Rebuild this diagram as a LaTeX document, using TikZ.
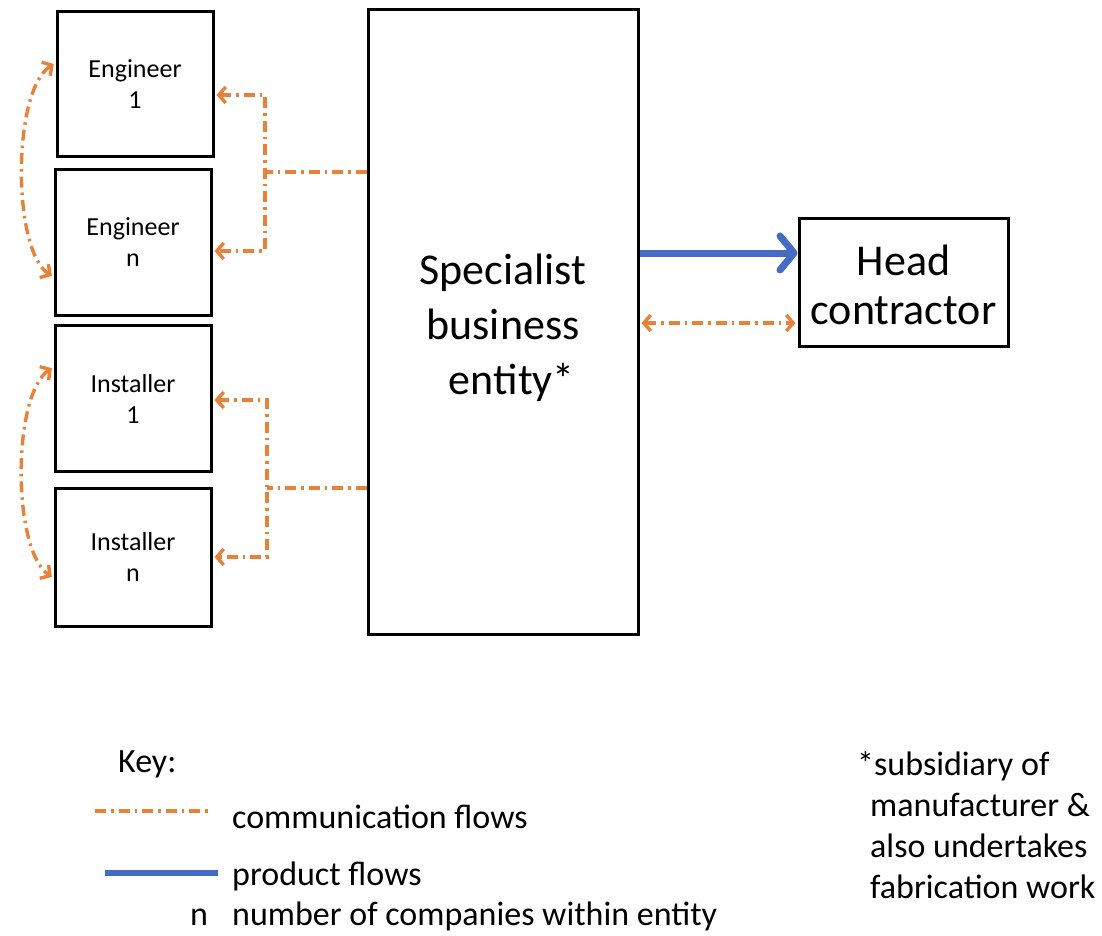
\documentclass[tikz,border=0pt]{standalone}
\usepackage{fontspec}
\setmainfont{Carlito}
\usetikzlibrary{arrows.meta,calc}
\definecolor{commorange}{RGB}{232,130,58}
\definecolor{prodblue}{RGB}{68,108,196}
\begin{document}
\begin{tikzpicture}[x=1pt,y=-1pt,
  box/.style={draw=black,line width=3pt,inner sep=0pt,align=center},
  smallbox/.style={box,minimum width=156pt,font=\fontsize{26}{31}\selectfont},
  comm/.style={draw=commorange,line width=3.4pt,
    dash pattern=on 11pt off 5pt on 2.5pt off 5pt},
  commtips/.style={{Straight Barb[length=7pt,width=16pt]}-{Straight Barb[length=7pt,width=16pt]},
    shorten <=2pt,shorten >=2pt},
  prod/.style={draw=prodblue,line width=7pt,
    -{Straight Barb[length=14pt,width=34pt,round]}},
  keytext/.style={anchor=base west,inner sep=0pt,font=\fontsize{34}{40}\selectfont},
]
\useasboundingbox (0,0) rectangle (1102,936);

% companies on the left
\node[smallbox,minimum height=145pt] (eng1) at (135,84.5) {Engineer\\1};
\node[smallbox,minimum height=145pt] (engn) at (133,242.5) {Engineer\\n};
\node[smallbox,minimum height=146pt] (ins1) at (133,398.5) {Installer\\1};
\node[smallbox,minimum height=138pt] (insn) at (133,557) {Installer\\n};

% central entity and head contractor
\node[box,minimum width=270pt,minimum height=624pt] (spec) at (503,322) {};
\node[align=center,inner sep=0pt,font=\fontsize{44}{55}\selectfont] (spectext)
      at ($(spec.center)+(0,6)$) {Specialist\\business\\\hspace{0.4em}entity*};
\node[box,minimum width=209pt,minimum height=128pt] (head) at (903.5,282) {};
\node[align=center,inner sep=0pt,font=\fontsize{44}{49}\selectfont] (headtext)
      at ($(head.center)+(0,3)$) {Head\\contractor};

% product flow and communication to the head contractor
\draw[prod] ($(spec.east)+(0,-69)$) -- ($(head.west)+(0,-29)$);
\draw[comm,commtips] ($(spec.east)+(0,1)$) -- ($(head.west)+(0,41)$);

% communication bus to the engineers
\coordinate (ebt) at (265,95);
\coordinate (ebm) at (265,172);
\coordinate (ebb) at (265,251);
\draw[comm] (spec.west |- ebm) -- (ebm);
\draw[comm,commtips] (eng1.east |- ebt) -- (ebt) -- (ebb) -- (engn.east |- ebb);

% communication bus to the installers
\coordinate (ibt) at (267,400);
\coordinate (ibm) at (267,488);
\coordinate (ibb) at (267,557);
\draw[comm] (spec.west |- ibm) -- (ibm);
\draw[comm,commtips] (ins1.east |- ibt) -- (ibt) -- (ibb) -- (insn.east |- ibb);

% communication among companies of the same kind
\coordinate (et) at (0,63);
\coordinate (eb) at (0,277);
\draw[comm,commtips] (eng1.west |- et) .. controls (12,90) and (12,250) .. (engn.west |- eb);
\coordinate (it) at (0,367);
\coordinate (ib) at (0,578);
\draw[comm,commtips] (ins1.west |- it) .. controls (12,395) and (12,550) .. (insn.west |- ib);

% key
\node[keytext] (keyhead) at (118,772) {Key:};
\coordinate (k1a) at (95,811);
\coordinate (k1b) at (212,811);
\draw[comm] (k1a) -- (k1b);
\node[keytext] (k1) at (232,828) {communication flows};
\coordinate (k2a) at (105,873);
\coordinate (k2b) at (218,873);
\draw[draw=prodblue,line width=6pt] (k2a) -- (k2b);
\node[keytext] (k2) at (232,885) {product flows};
\node[keytext] (k3n) at (190,925) {n};
\node[keytext] (k3) at (232,925) {number of companies within entity};

% footnote
\node[keytext] (f1) at (857,775) {*subsidiary of};
\node[keytext] (f2) at (870,816) {manufacturer \&};
\node[keytext] (f3) at (870,857) {also undertakes};
\node[keytext] (f4) at (870,898) {fabrication work};
\end{tikzpicture}
\end{document}
